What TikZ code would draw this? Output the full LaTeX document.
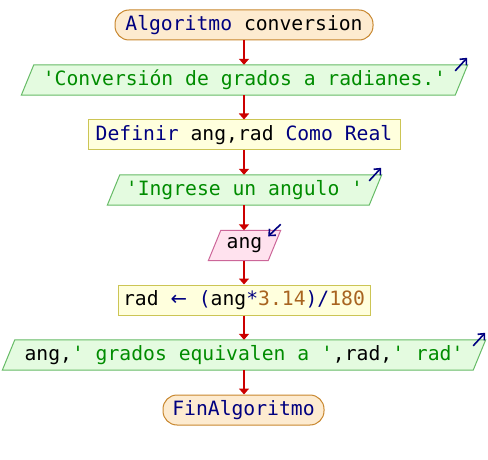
\documentclass[tikz,border=0pt]{standalone}
\usepackage{fontspec}
\newfontfamily\codefont{DejaVu Sans Mono}
\newfontfamily\symfont{DejaVu Sans}
\usetikzlibrary{arrows.meta,calc,backgrounds}

\definecolor{flowred}{HTML}{CC0000}
\definecolor{kwblue}{HTML}{000080}
\definecolor{strgreen}{HTML}{008C00}
\definecolor{numbrown}{HTML}{A86420}
\definecolor{termfill}{HTML}{FDEBD0}
\definecolor{termdraw}{HTML}{C8872E}
\definecolor{outfill}{HTML}{E4FBE0}
\definecolor{outdraw}{HTML}{66BB66}
\definecolor{procfill}{HTML}{FFFFDD}
\definecolor{procdraw}{HTML}{CCC555}
\definecolor{infill}{HTML}{FFE2EE}
\definecolor{indraw}{HTML}{CC6699}

\newcommand{\kw}[1]{\textcolor{kwblue}{#1}}
\newcommand{\str}[1]{\textcolor{strgreen}{#1}}
\newcommand{\num}[1]{\textcolor{numbrown}{#1}}

\begin{document}
\begin{tikzpicture}[x=1pt,y=-1pt,
  font=\codefont\fontsize{19.7}{22}\selectfont,
  every node/.style={inner sep=0pt, minimum height=30pt},
  term/.style={rectangle, rounded corners=14pt, draw=termdraw, fill=termfill, line width=1pt},
  proc/.style={rectangle, draw=procdraw, fill=procfill, line width=1pt},
  io/.style={rectangle},
  outshape/.style={draw=outdraw, fill=outfill, line width=1pt},
  inshape/.style={draw=indraw, fill=infill, line width=1pt},
  flow/.style={draw=flowred, line width=2pt, -{Triangle[width=10pt,length=6pt]}},
  dirarrow/.style={draw=kwblue, line width=1.6pt, -{Straight Barb[length=5pt,width=9pt]}}]
\useasboundingbox (0,0) rectangle (488,460);

% flowchart steps
\node[term, minimum width=258pt] (start) at (244,25) {\kw{Algoritmo} conversion};
\node[io, minimum width=421pt] (title) at (244.5,80) {\str{'Conversión de grados a radianes.'}};
\node[proc, minimum width=312pt] (decl) at (244,135) {\kw{Definir} ang,rad \kw{Como Real}};
\node[io, minimum width=249pt] (ask) at (244.5,190) {\str{'Ingrese un angulo '}};
\node[io, minimum width=47pt] (read) at (244.5,245.5) {ang};
\node[proc, minimum width=252pt] (calc) at (244,300) {rad \kw{{\symfont←}} \kw{(}ang\kw{*}\num{3.14}\kw{)/}\num{180}};
\node[io, minimum width=458pt] (result) at (244,355) {ang,\str{' grados equivalen a '},rad,\str{' rad'}};
\node[term, minimum width=161pt] (stop) at (243.5,410) {\kw{FinAlgoritmo}};

% parallelogram outlines behind the input/output texts
\begin{scope}[on background layer]
  \foreach \n in {title,ask,result}{
    \path[outshape] (\n.north west) -- ($(\n.north east)+(12.5,0)$)
      -- (\n.south east) -- ($(\n.south west)+(-12.5,0)$) -- cycle;
  }
  \path[inshape] (read.north west) -- ($(read.north east)+(12.5,0)$)
    -- (read.south east) -- ($(read.south west)+(-12.5,0)$) -- cycle;
\end{scope}

% direction marks on output and input steps
\foreach \n in {title,ask,result}{
  \coordinate (\n-tail) at ($(\n.north east)+(0,6)$);
  \coordinate (\n-head) at ($(\n.north east)+(12,-7)$);
  \draw[dirarrow] (\n-tail) -- (\n-head);
}
\coordinate (read-tail) at ($(read.north east)+(12.5,-6)$);
\coordinate (read-head) at ($(read.north east)+(0,6)$);
\draw[dirarrow] (read-tail) -- (read-head);

% control flow
\draw[flow] (start.south) -- (start.south |- title.north);
\draw[flow] (start.south |- title.south) -- (start.south |- decl.north);
\draw[flow] (decl.south) -- (decl.south |- ask.north);
\draw[flow] (decl.south |- ask.south) -- (decl.south |- read.north);
\draw[flow] (decl.south |- read.south) -- (decl.south |- calc.north);
\draw[flow] (calc.south) -- (calc.south |- result.north);
\draw[flow] (calc.south |- result.south) -- (calc.south |- stop.north);
\end{tikzpicture}
\end{document}
